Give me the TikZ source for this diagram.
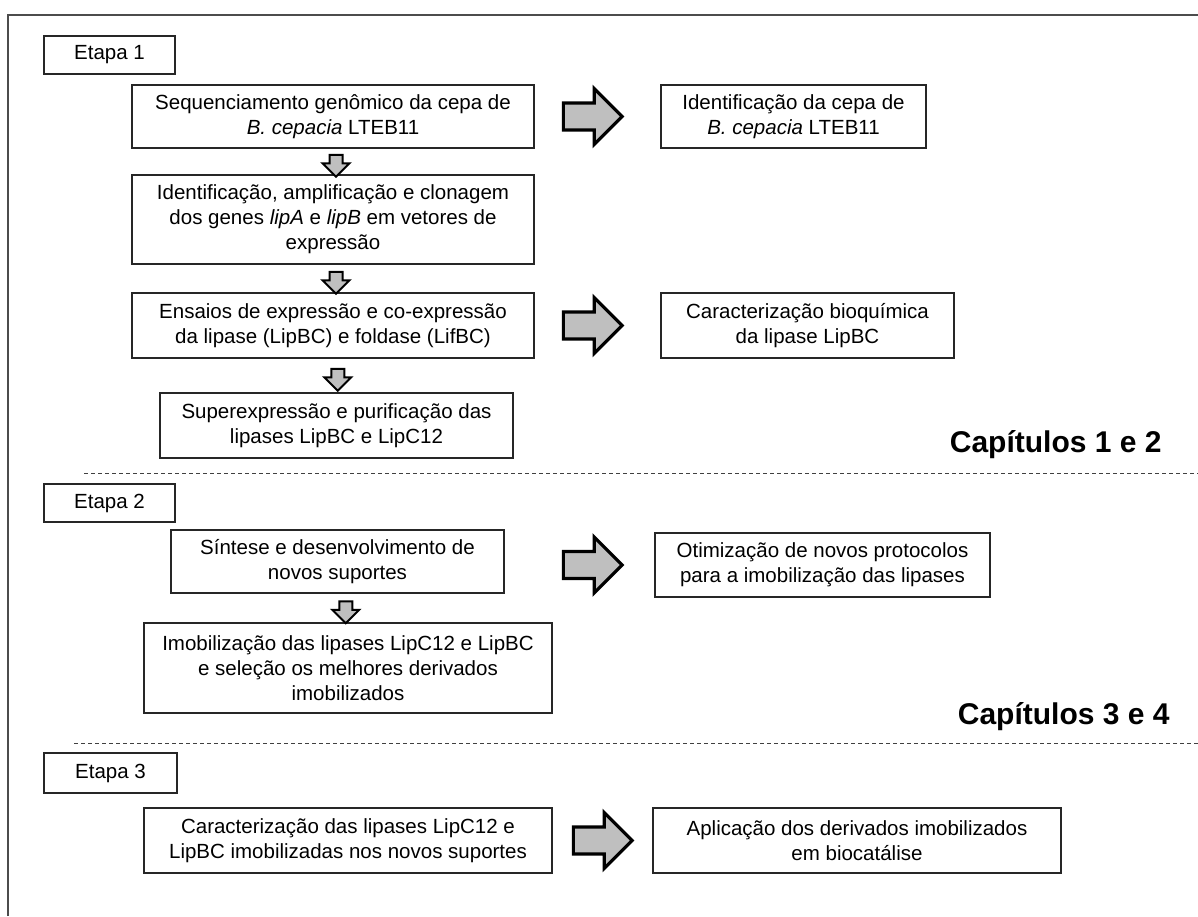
\documentclass[tikz,border=0pt]{standalone}
\usepackage{fontspec}
\setmainfont{Liberation Sans}
\usetikzlibrary{arrows.meta,positioning,calc,shapes.arrows}

\begin{document}
\begin{tikzpicture}[x=0.5pt,y=-0.5pt,
    box/.style={draw=black!85,line width=0.7pt,align=center,inner sep=2pt,
        font=\fontsize{10.25}{12.5}\selectfont},
    etapa/.style={box,minimum width=65.5pt,minimum height=19pt},
    rarrow/.style={single arrow,draw=black,line width=1.6pt,fill=black!25,
        minimum height=29.4pt,minimum width=26.4pt,single arrow head extend=7.25pt,
        inner xsep=0pt,inner ysep=5.95pt},
    darrow/.style={xshift=1.5pt,yshift=-0.5pt,rotate=-90,single arrow,draw=black,
        line width=1pt,fill=black!25,minimum height=11pt,minimum width=12.5pt,
        single arrow head extend=3.5pt,inner xsep=0pt,inner ysep=2.75pt},
    chap/.style={anchor=base east,inner sep=0pt,font=\fontsize{15}{18}\selectfont\bfseries},
    sep/.style={dashed,dash pattern=on 2pt off 1.5pt,line width=0.5pt,black!75}]
    \useasboundingbox (0,0) rectangle (1198,916);

    % Outer frame
    \draw[line width=1.2pt,black!70] (8,916) -- (8,15) -- (1198,15);

    % Etapa 1
    \node[etapa] (etapa1) at (109.5,55) {Etapa 1};
    \node[box,minimum width=201pt,minimum height=31.5pt] (seq) at (333,116.5)
        {Sequenciamento genômico da cepa de\\ \textit{B. cepacia} LTEB11};
    \node[box,minimum width=201pt,minimum height=44.5pt] (genes) at (333,219.5)
        {Identificação, amplificação e clonagem\\ dos genes \textit{lipA} e \textit{lipB} em vetores de\\ expressão};
    \node[box,minimum width=201pt,minimum height=32.5pt] (ensaios) at (333,325.5)
        {Ensaios de expressão e co-expressão\\ da lipase (LipBC) e foldase (LifBC)};
    \node[box,minimum width=176.5pt,minimum height=32.5pt] (superexp) at (336.5,425.5)
        {Superexpressão e purificação das\\ lipases LipBC e LipC12};
    \node[box,minimum width=132.5pt,minimum height=31.5pt] (idcepa) at (793.5,116.5)
        {Identificação da cepa de\\ \textit{B. cepacia} LTEB11};
    \node[box,minimum width=146.5pt,minimum height=32.5pt] (bioq) at (807.5,325.5)
        {Caracterização bioquímica\\ da lipase LipBC};

    % Etapa 2
    \node[etapa] (etapa2) at (109.5,503) {Etapa 2};
    \node[box,minimum width=166.5pt,minimum height=31.5pt] (sintese) at (337.5,561.5)
        {Síntese e desenvolvimento de\\ novos suportes};
    \node[box,minimum width=204pt,minimum height=45pt] (imob) at (348,668)
        {Imobilização das lipases LipC12 e LipBC\\ e seleção os melhores derivados\\ imobilizados};
    \node[box,minimum width=167.5pt,minimum height=32pt] (otim) at (822.5,565)
        {Otimização de novos protocolos\\ para a imobilização das lipases};

    % Etapa 3
    \node[etapa,minimum width=66.5pt,minimum height=20pt] (etapa3) at (110.5,773) {Etapa 3};
    \node[box,minimum width=204pt,minimum height=32.5pt] (caract) at (348,840.5)
        {Caracterização das lipases LipC12 e\\ LipBC imobilizadas nos novos suportes};
    \node[box,minimum width=204pt,minimum height=32.5pt] (aplic) at (857,840.5)
        {Aplicação dos derivados imobilizados\\ em biocatálise};

    % Down arrows
    \node[darrow] (d1) at ($(seq.south)!0.5!(genes.north)$) {};
    \node[darrow] (d2) at ($(genes.south)!0.5!(ensaios.north)$) {};
    \node[darrow] (d3) at ($(ensaios.south)!0.5!(superexp.north)$) {};
    \node[darrow] (d4) at ($(sintese.south)!0.5!(imob.north)$) {};

    % Right arrows
    \coordinate (rx) at (586,0);
    \coordinate (rx2) at (596,0);
    \node[rarrow] (r1) at (rx |- seq) {};
    \node[rarrow] (r2) at (rx |- ensaios) {};
    \node[rarrow] (r3) at (rx |- otim) {};
    \node[rarrow] (r4) at (rx2 |- caract) {};

    % Chapter separators
    \node[chap] (cap12) at (1162,452) {Capítulos 1 e 2};
    \draw[sep] (84,473) -- (1198,473);
    \node[chap] (cap34) at (1170,724) {Capítulos 3 e 4};
    \draw[sep] (74,743) -- (1198,743);
\end{tikzpicture}
\end{document}
